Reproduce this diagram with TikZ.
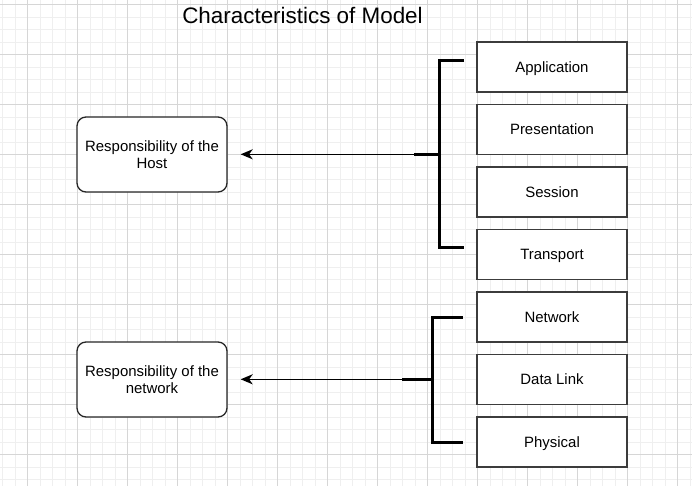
\documentclass[tikz,border=0pt]{standalone}
\usepackage{fontspec}
\setmainfont{Liberation Sans}
\usetikzlibrary{arrows.meta}
\definecolor{minorgrid}{HTML}{EFEFEF}
\definecolor{majorgrid}{HTML}{D6D6D6}
\definecolor{boxline}{HTML}{3C3C3C}
\tikzset{
  minorline/.style={draw=minorgrid, line width=0.9bp},
  majorline/.style={draw=majorgrid, line width=1bp},
  layerbox/.style={draw=boxline, line width=1.3bp, fill=white, minimum width=150bp, minimum height=50bp, inner sep=0pt, text height=10.6bp, text depth=0pt, font=\fontsize{15}{17.6}\selectfont},
  rolebox/.style={draw=black!85, line width=1.3bp, fill=white, rounded corners=9bp, minimum width=150bp, minimum height=75bp, inner sep=0pt, align=center, font=\fontsize{15}{17.6}\selectfont},
  bracketline/.style={draw=black, line width=3bp},
  arrowline/.style={draw=black, line width=1.5bp, -{Stealth[length=12bp, width=10bp, inset=3.5bp]}, shorten >=13bp},
}
\begin{document}
\begin{tikzpicture}[x=1bp, y=-1bp]
\useasboundingbox (0,0) rectangle (692,486);
\fill[white] (0,0) rectangle (692,486);
% grid
\foreach \i in {0,...,55} {\draw[minorline] ({2.5+12.5*\i},0) -- ++(0,486);}
\foreach \i in {0,...,38} {\draw[minorline] (0,{4.5+12.5*\i}) -- ++(692,0);}
\foreach \i in {0,...,13} {\draw[majorline] ({27.5+50*\i},0) -- ++(0,486);}
\foreach \i in {0,...,9} {\draw[majorline] (0,{4.5+50*\i}) -- ++(692,0);}
% title
\node[anchor=base, inner sep=0pt, font=\fontsize{22.5}{26}\selectfont] (title) at (302.5,24) {Characteristics of Model};
% layers
\node[layerbox] (app) at (552,67) {Application};
\node[layerbox] (pres) at (552,129.5) {Presentation};
\node[layerbox] (sess) at (552,192) {Session};
\node[layerbox] (trans) at (552,254.5) {Transport};
\node[layerbox] (net) at (552,317) {Network};
\node[layerbox] (dl) at (552,379.5) {Data Link};
\node[layerbox] (phys) at (552,442) {Physical};
% role boxes
\node[rolebox] (host) at (152,154.5) {Responsibility of the\\Host};
\node[rolebox] (netw) at (152,379.5) {Responsibility of the\\network};
% brackets
\coordinate (htop) at (464,61);
\coordinate (hbot) at (464,248);
\coordinate (hmid) at (439,154.3);
\coordinate (hstub) at (414,154.3);
\draw[bracketline] (htop) -- (439,61) -- (439,248) -- (hbot);
\draw[bracketline] (hstub) -- (hmid);
\coordinate (ntop) at (463,317);
\coordinate (nbot) at (463,442);
\coordinate (nmid) at (432,379.3);
\coordinate (nstub) at (402,379.3);
\draw[bracketline] (ntop) -- (432,317) -- (432,442) -- (nbot);
\draw[bracketline] (nstub) -- (nmid);
% arrows
\draw[arrowline] (hmid) -- (host.east |- hmid);
\draw[arrowline] (nmid) -- (netw.east |- nmid);
\end{tikzpicture}
\end{document}
